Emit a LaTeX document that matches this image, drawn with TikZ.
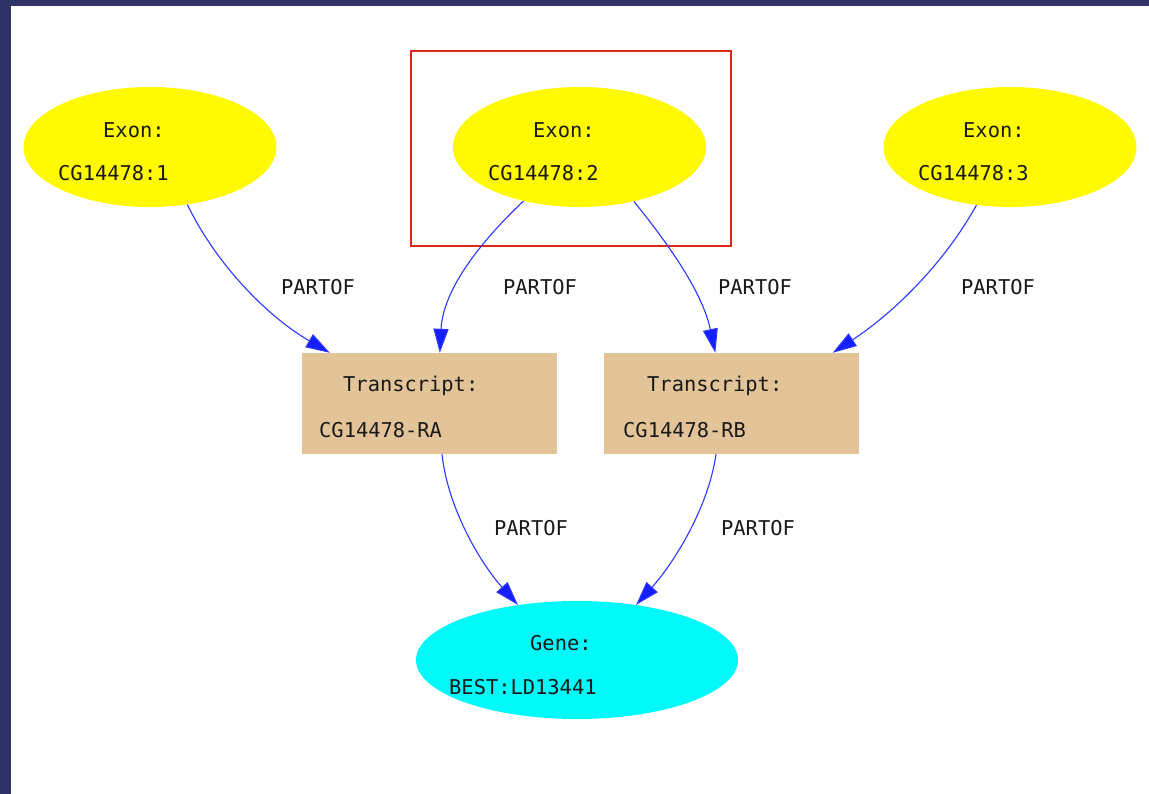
\documentclass[tikz,border=0pt]{standalone}
\usepackage{fontspec}
\newfontfamily\monofnt{DejaVu Sans Mono}
\usetikzlibrary{shapes.geometric,arrows.meta}
\definecolor{navybg}{RGB}{47,50,102}
\definecolor{exonyellow}{RGB}{255,250,0}
\definecolor{transtan}{RGB}{226,196,152}
\definecolor{genecyan}{RGB}{0,250,250}
\definecolor{edgeblue}{RGB}{45,55,255}
\definecolor{arrowblue}{RGB}{20,30,255}
\definecolor{selred}{RGB}{220,40,20}
\tikzset{
  exonnode/.style={ellipse,fill=exonyellow,inner sep=0pt,minimum width=253pt,minimum height=120pt},
  transnode/.style={rectangle,fill=transtan,inner sep=0pt,minimum width=255pt,minimum height=101pt},
  genenode/.style={ellipse,fill=genecyan,inner sep=0pt,minimum width=322pt,minimum height=118pt},
  txt/.style={anchor=west,inner sep=0pt,font=\monofnt\fontsize{20.4}{24}\selectfont,text=black!90},
  lbl/.style={anchor=center,inner sep=0pt,font=\monofnt\fontsize{20.4}{24}\selectfont,text=black!90},
  edge/.style={draw=edgeblue,line width=1.1pt,-{Triangle[length=24pt,width=15pt,fill=arrowblue]}},
}
\begin{document}
\begin{tikzpicture}[x=1pt,y=-1pt]
\useasboundingbox (0,0) rectangle (1149,794);
\fill[navybg] (0,0) rectangle (1149,794);
\fill[white] (11,6) rectangle (1149,794);
% nodes
\node[exonnode] (e1) at (150,147) {};
\node[exonnode] (e2) at (579.5,147) {};
\node[exonnode] (e3) at (1010,147) {};
\node[transnode] (ra) at (429.5,403.5) {};
\node[transnode] (rb) at (731,403.5) {};
\node[genenode] (g) at (577,660) {};
\node[draw=selred,line width=1.4pt,inner sep=0pt,minimum width=320pt,minimum height=195pt] (sel) at (571,148.5) {};
% texts
\node[txt] (e1a) at (103,130) {Exon:};
\node[txt] (e1b) at (58,173) {CG14478:1};
\node[txt] (e2a) at (533,130) {Exon:};
\node[txt] (e2b) at (488,173) {CG14478:2};
\node[txt] (e3a) at (963,130) {Exon:};
\node[txt] (e3b) at (918,173) {CG14478:3};
\node[txt] (raa) at (343,386) {Transcript:};
\node[txt] (rab) at (319,430) {CG14478-RA};
\node[txt] (rba) at (647,386) {Transcript:};
\node[txt] (rbb) at (623,430) {CG14478-RB};
\node[txt] (ga) at (530,643) {Gene:};
\node[txt] (gb) at (449,687) {BEST:LD13441};
% edge labels
\node[lbl] (l1) at (318,287) {PARTOF};
\node[lbl] (l2) at (540,287) {PARTOF};
\node[lbl] (l3) at (755,287) {PARTOF};
\node[lbl] (l4) at (998,287) {PARTOF};
\node[lbl] (l5) at (531,528) {PARTOF};
\node[lbl] (l6) at (758,528) {PARTOF};
% edges
\draw[edge] (e1.-57.5) .. controls (215,262) and (265,315) .. ([xshift=28pt]ra.north west);
\draw[edge] (e2.-136.5) .. controls (480,242) and (443,290) .. ([xshift=138pt]ra.north west);
\draw[edge] (e2.-45) .. controls (665,240) and (702,290) .. ([xshift=112pt]rb.north west);
\draw[edge] (e3.-120.5) .. controls (945,262) and (895,312) .. ([xshift=-26pt]rb.north east);
\draw[edge] ([xshift=12.5pt]ra.south) .. controls (448,510) and (482,565) .. (g.137);
\draw[edge] ([xshift=-15pt]rb.south) .. controls (708,510) and (672,565) .. (g.43);
\end{tikzpicture}
\end{document}
